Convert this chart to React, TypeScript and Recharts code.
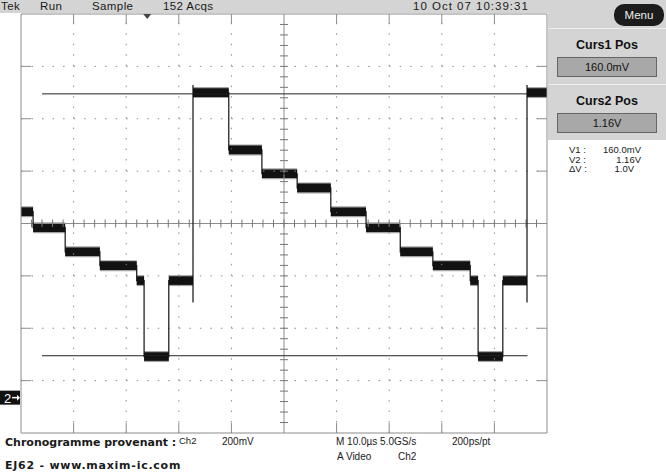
import React from "react"
import { ComposedChart, Line, XAxis, YAxis, ReferenceLine, ReferenceArea, ReferenceDot } from "recharts"

// Ch2 staircase: time in µs (10 µs/div), level in V (200 mV/div)
const stepTimes = [0, 2.3, 8.4, 15.0, 22.0, 23.4, 28.1, 32.7, 39.5, 45.8, 52.5, 58.9, 65.6, 72.1, 78.3, 85.4, 86.9, 91.6, 96.2, 100]
const stepLevels = [0.71, 0.649, 0.557, 0.504, 0.447, 0.157, 0.447, 1.165, 0.946, 0.855, 0.801, 0.71, 0.649, 0.557, 0.504, 0.447, 0.157, 0.447, 1.165]

// rising edges, with the glitch that dips below them
const edgeTimes = [32.7, 96.2]
const edgeLow = [0.363, 0.363]
const edgeHigh = [1.194, 1.194]

const cursorLevels = [0.16, 1.16]
const cursorFrom = 4.0
const cursorTo = 96.3
const triggerTime = 24

const xDomain: [number, number] = [0, 100]
const yDomain: [number, number] = [-0.135, 1.465]
const xMajor = [10, 20, 30, 40, 60, 70, 80, 90]
const yMajor = [0.065, 0.265, 0.465, 0.865, 1.065, 1.265]
const xCenter = 50
const yCenter = 0.665

const xMinor = Array.from({ length: 51 }, (_, i) => i * 2)
const yMinor = Array.from({ length: 41 }, (_, i) => +(-0.135 + i * 0.04).toFixed(4))

const W = 666
const H = 474
const margin = { top: 14, right: 119, bottom: 41, left: 21 }
const pxX = 100 / 526
const pxY = 1.6 / 419

const ink = "#121212"
const frame = "#8c8c8c"
const panel = "#d4d4d4"

const wave: { t: number; v: number }[] = []
stepLevels.forEach((v, i) => {
  const t0 = stepTimes[i]
  const t1 = stepTimes[i + 1]
  const e = edgeTimes.indexOf(t0)
  if (e >= 0) {
    wave.push({ t: t0, v: edgeLow[e] })
    wave.push({ t: t0, v: edgeHigh[e] })
  }
  wave.push({ t: t0, v })
  wave.push({ t: t1, v })
})

const scope = "'Liberation Sans', Arial, sans-serif"

function Txt(props: { x: number; y: number; size?: number; lh?: number; bold?: boolean; right?: boolean; font?: string; ls?: number; color?: string; children: React.ReactNode }) {
  const size = props.size ?? 11
  const style: React.CSSProperties = {
    position: "absolute",
    top: props.y,
    fontSize: size,
    lineHeight: (props.lh ?? size + 1) + "px",
    fontFamily: props.font ?? scope,
    fontWeight: props.bold ? "bold" : "normal",
    letterSpacing: props.ls ?? 0,
    color: props.color ?? "#1a1a1a",
    whiteSpace: "nowrap",
  }
  if (props.right) style.right = W - props.x
  else style.left = props.x
  return <div style={style}>{props.children}</div>
}

const Trigger = (p: any) => (
  <polygon points={`${p.cx - 4},${p.cy} ${p.cx + 4},${p.cy} ${p.cx},${p.cy + 5}`} fill="#444" />
)

const Ground = (p: any) => (
  <g>
    <rect x={p.cx - 21} y={p.cy - 7} width={20} height={14} fill="#111" />
    <text x={p.cx - 17} y={p.cy + 5} fill="#fff" fontSize={13} fontFamily={scope}>2</text>
    <line x1={p.cx - 9} y1={p.cy} x2={p.cx - 3} y2={p.cy} stroke="#fff" strokeWidth={1.5} />
    <polygon points={`${p.cx - 4},${p.cy - 3} ${p.cx - 1},${p.cy} ${p.cx - 4},${p.cy + 3}`} fill="#fff" />
  </g>
)

const valueBox: React.CSSProperties = {
  position: "absolute",
  left: 557,
  width: 98,
  height: 18,
  background: "#a8a8a8",
  border: "1px solid #666",
  fontFamily: scope,
  fontSize: 11,
  lineHeight: "18px",
  textAlign: "center",
  color: "#111",
}

const title: React.CSSProperties = {
  position: "absolute",
  left: 548,
  width: 118,
  textAlign: "center",
  fontFamily: scope,
  fontWeight: "bold",
  fontSize: 12.5,
  color: "#111",
}

export default function App() {
  return (
    <div style={{ position: "absolute", left: 0, top: 0, width: W, height: H, background: "#fff", overflow: "hidden" }}>
      <div style={{ position: "absolute", left: 0, top: 0, width: W, height: 13, background: panel }} />
      <div style={{ position: "absolute", left: 548, top: 0, width: 118, height: 140, background: panel }} />
      <div style={{ position: "absolute", left: 548, top: 28, width: 118, height: 1, background: "#eee" }} />
      <div style={{ position: "absolute", left: 548, top: 84, width: 118, height: 1, background: "#eee" }} />

      <div style={{ position: "absolute", left: 0, top: 0 }}>
        <ComposedChart width={W} height={H} data={wave} margin={margin}>
          <XAxis xAxisId={0} dataKey="t" type="number" domain={xDomain} ticks={xMinor} interval={0} mirror tick={false} tickSize={5} axisLine={{ stroke: frame }} tickLine={{ stroke: frame }} allowDataOverflow />
          <XAxis xAxisId="top" orientation="top" type="number" domain={xDomain} ticks={xMinor} interval={0} mirror tick={false} tickSize={5} axisLine={{ stroke: frame }} tickLine={{ stroke: frame }} allowDataOverflow />
          <YAxis yAxisId={0} type="number" domain={yDomain} ticks={yMinor} interval={0} mirror tick={false} tickSize={5} axisLine={{ stroke: frame }} tickLine={{ stroke: frame }} allowDataOverflow />
          <YAxis yAxisId="right" orientation="right" type="number" domain={yDomain} ticks={yMinor} interval={0} mirror tick={false} tickSize={5} axisLine={{ stroke: frame }} tickLine={{ stroke: frame }} allowDataOverflow />

          {xMajor.map((x) => (
            <ReferenceLine key={"gx" + x} x={x} stroke={frame} strokeDasharray="1.5 8.98" />
          ))}
          {yMajor.map((y) => (
            <ReferenceLine key={"gy" + y} y={y} stroke={frame} strokeDasharray="1.5 9.02" />
          ))}
          {xMajor.map((x) => (
            <ReferenceLine key={"bt" + x} segment={[{ x, y: yDomain[1] }, { x, y: yDomain[1] - 10 * pxY }]} stroke={frame} />
          ))}
          {xMajor.map((x) => (
            <ReferenceLine key={"bb" + x} segment={[{ x, y: yDomain[0] }, { x, y: yDomain[0] + 10 * pxY }]} stroke={frame} />
          ))}
          {yMajor.map((y) => (
            <ReferenceLine key={"bl" + y} segment={[{ x: xDomain[0], y }, { x: xDomain[0] + 10 * pxX, y }]} stroke={frame} />
          ))}
          {yMajor.map((y) => (
            <ReferenceLine key={"br" + y} segment={[{ x: xDomain[1], y }, { x: xDomain[1] - 10 * pxX, y }]} stroke={frame} />
          ))}

          <ReferenceLine x={xCenter} stroke={frame} />
          <ReferenceLine y={yCenter} stroke={frame} />
          {xMinor.slice(1, -1).map((x) => (
            <ReferenceLine key={"cx" + x} segment={[{ x, y: yCenter - 4 * pxY }, { x, y: yCenter + 4 * pxY }]} stroke="#777" />
          ))}
          {yMinor.slice(1, -1).map((y) => (
            <ReferenceLine key={"cy" + y} segment={[{ x: xCenter - 4 * pxX, y }, { x: xCenter + 4 * pxX, y }]} stroke="#777" />
          ))}

          {cursorLevels.map((c) => (
            <ReferenceLine key={"cur" + c} segment={[{ x: cursorFrom, y: c }, { x: cursorTo, y: c }]} stroke="#222" />
          ))}

          {stepLevels.map((v, i) => (
            <ReferenceArea key={"no" + i} x1={stepTimes[i]} x2={stepTimes[i + 1]} y1={v - 0.021} y2={v + 0.021} fill="#666" fillOpacity={0.6} stroke="none" />
          ))}
          {stepLevels.map((v, i) => (
            <ReferenceArea key={"ni" + i} x1={stepTimes[i]} x2={stepTimes[i + 1]} y1={v - 0.0165} y2={v + 0.0165} fill={ink} fillOpacity={1} stroke="none" />
          ))}

          <Line type="linear" dataKey="v" stroke={ink} strokeWidth={1.2} dot={false} isAnimationActive={false} />

          <ReferenceDot x={triggerTime} y={yDomain[1]} r={4} shape={Trigger} />
          <ReferenceDot x={xDomain[0]} y={0} r={4} shape={Ground} ifOverflow="visible" />
        </ComposedChart>
      </div>

      <Txt x={1} y={0} size={11.5} ls={0.4}>Tek</Txt>
      <Txt x={40} y={0} size={11.5} ls={0.4}>Run</Txt>
      <Txt x={92} y={0} size={11.5} ls={0.4}>Sample</Txt>
      <Txt x={163} y={0} size={11.5} ls={0.4}>152 Acqs</Txt>
      <Txt x={413} y={0} size={11.5} ls={1}>10 Oct 07 10:39:31</Txt>

      <div style={{ position: "absolute", left: 614, top: 4, width: 50, height: 22, borderRadius: 10, background: "#1c1c1c", color: "#eee", fontFamily: scope, fontSize: 11.5, lineHeight: "22px", textAlign: "center" }}>Menu</div>

      <div style={{ ...title, top: 38 }}>Curs1 Pos</div>
      <div style={{ ...valueBox, top: 57 }}>160.0mV</div>
      <div style={{ ...title, top: 94 }}>Curs2 Pos</div>
      <div style={{ ...valueBox, top: 113 }}>1.16V</div>

      <Txt x={569} y={145} size={9.5} lh={9.5}>V1 :</Txt>
      <Txt x={569} y={154.5} size={9.5} lh={9.5}>V2 :</Txt>
      <Txt x={569} y={164} size={9.5} lh={9.5}>ΔV :</Txt>
      <Txt x={641} y={145} size={9.5} lh={9.5} right>160.0mV</Txt>
      <Txt x={641} y={154.5} size={9.5} lh={9.5} right>1.16V</Txt>
      <Txt x={634} y={164} size={9.5} lh={9.5} right>1.0V</Txt>

      <Txt x={5} y={437} size={11} bold font="'DejaVu Sans', sans-serif">Chronogramme provenant :</Txt>
      <Txt x={179} y={436} size={9.5}>Ch2</Txt>
      <Txt x={222} y={436} size={10}>200mV</Txt>
      <Txt x={336} y={436} size={10}>M 10.0µs 5.0GS/s</Txt>
      <Txt x={452} y={436} size={10}>200ps/pt</Txt>
      <Txt x={337} y={451} size={10}>A  Video</Txt>
      <Txt x={398} y={451} size={10}>Ch2</Txt>
      <Txt x={5} y={460} size={11} bold ls={0.75} font="'DejaVu Sans', sans-serif">EJ62 - www.maxim-ic.com</Txt>
    </div>
  )
}
